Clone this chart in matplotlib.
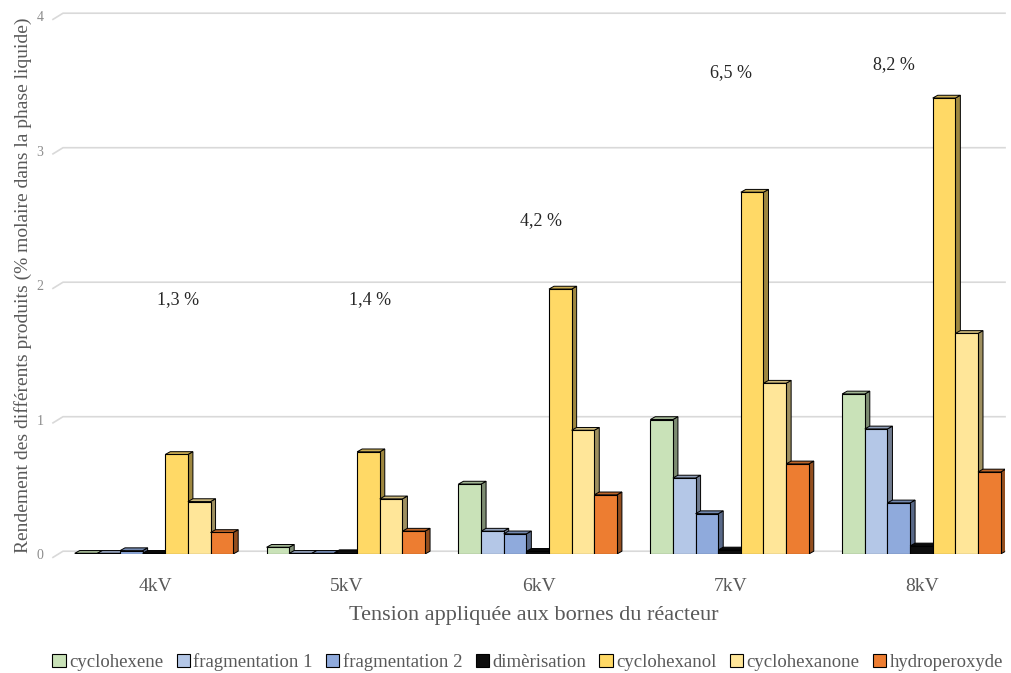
"""Rendement des produits en fonction de la tension (barres pseudo-3D)."""

import matplotlib.pyplot as plt
from matplotlib.colors import to_rgb
from matplotlib.patches import Polygon, Patch
import numpy as np

categories = ["4kV", "5kV", "6kV", "7kV", "8kV"]
series_names = ["cyclohexene", "fragmentation 1", "fragmentation 2", "dimèrisation",
                "cyclohexanol", "cyclohexanone", "hydroperoxyde"]
series_colors = ["#C9E2B8", "#B4C7E7", "#8FAADC", "#0D0D0D", "#FFD966", "#FFE699", "#ED7D31"]

cyclohexene = [0.005, 0.05, 0.52, 1.00, 1.19]
fragmentation_1 = [0.005, 0.005, 0.17, 0.565, 0.93]
fragmentation_2 = [0.025, 0.005, 0.15, 0.30, 0.38]
dimerisation = [0.005, 0.01, 0.02, 0.03, 0.06]
cyclohexanol = [0.74, 0.76, 1.97, 2.69, 3.39]
cyclohexanone = [0.39, 0.41, 0.92, 1.27, 1.64]
hydroperoxyde = [0.16, 0.17, 0.44, 0.67, 0.61]
series_values = [cyclohexene, fragmentation_1, fragmentation_2, dimerisation,
                 cyclohexanol, cyclohexanone, hydroperoxyde]

conversion_labels = ["1,3 %", "1,4 %", "4,2 %", "6,5 %", "8,2 %"]
conversion_x = [0.12, 1.12, 2.01, 3.00, 3.85]
conversion_y = [1.89, 1.89, 2.48, 3.58, 3.64]

plt.rcParams["font.family"] = ["Liberation Serif", "DejaVu Serif"]
GREY = "#595959"

fig = plt.figure(figsize=(10.11, 6.73), dpi=100)
ax = fig.add_axes([0.0623, 0.1768, 0.9318, 0.7994])
ax.set_xlim(-0.48, 4.43)
ax.set_ylim(0, 4)

# pixel -> data conversion for the depth effect
ax_w_px = 0.9318 * 1011
ax_h_px = 0.7994 * 673
dx = 5 * (4.43 + 0.48) / ax_w_px
dy = 2.8 * 4 / ax_h_px

# back-wall gridlines with slanted left end
for level in range(5):
    ax.plot([-0.48 - 10 * (4.91 / ax_w_px), -0.48, 4.43], [level - 1.2 * dy, level + dy, level + dy],
            color="#d9d9d9", lw=1.2, zorder=0, clip_on=False)

width = 0.118
x = np.arange(len(categories))


def shade(color, f):
    r, g, b = to_rgb(color)
    return (r * f, g * f, b * f)


for j, (name, vals, col) in enumerate(zip(series_names, series_values, series_colors)):
    left = x + (j - 3.55) * width
    for xi, h in zip(left, vals):
        z = 2 + j
        side = Polygon([(xi + width, 0), (xi + width + dx, dy), (xi + width + dx, h + dy), (xi + width, h)],
                       closed=True, facecolor=shade(col, 0.62), edgecolor="black", lw=0.7, zorder=z)
        top = Polygon([(xi, h), (xi + dx, h + dy), (xi + width + dx, h + dy), (xi + width, h)],
                      closed=True, facecolor=shade(col, 0.8), edgecolor="black", lw=0.7, zorder=z)
        ax.add_patch(side)
        ax.add_patch(top)
    ax.bar(left, vals, width=width, align="edge", color=col, edgecolor="black", lw=0.8, zorder=2 + j + 0.5)

for label, tx, ty in zip(conversion_labels, conversion_x, conversion_y):
    ax.text(tx, ty, label, ha="center", va="center", fontsize=13, color="#262626")

for s in ax.spines.values():
    s.set_visible(False)
ax.set_xticks(x)
ax.set_xticklabels(categories, fontsize=14, color=GREY)
ax.tick_params(axis="x", length=0, pad=17)
ax.set_yticks(range(5))
ax.set_yticklabels([str(v) for v in range(5)], fontsize=10, color="#8c8c8c")
ax.tick_params(axis="y", length=0, pad=14)

ax.set_xlabel("Tension appliquée aux bornes du réacteur", fontsize=16, color=GREY, labelpad=8)
ax.set_ylabel("Rendement des différents produits (% molaire dans la phase liquide)",
              fontsize=14, color=GREY, labelpad=3)

handles = [Patch(facecolor=c, edgecolor="black", lw=0.8) for c in series_colors]
fig.legend(handles, series_names, loc="center", bbox_to_anchor=(0.522, 0.016), ncol=7, frameon=False,
           fontsize=13.5, labelcolor=GREY, handlelength=0.7, handleheight=0.7, handletextpad=0.2,
           columnspacing=0.7)

fig.savefig("out.png", dpi=100)
